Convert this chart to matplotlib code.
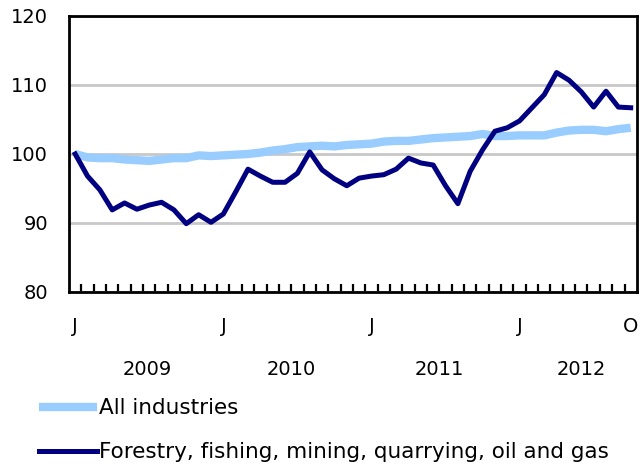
import matplotlib.pyplot as plt
import numpy as np

# monthly index, Jan 2009 = 100
all_industries = [100.0, 99.5, 99.4, 99.4, 99.2, 99.1, 99.0, 99.2, 99.4, 99.4, 99.8, 99.7,
                  99.8, 99.9, 100.0, 100.2, 100.5, 100.7, 101.0, 101.1, 101.2, 101.1, 101.3, 101.4,
                  101.5, 101.8, 101.9, 101.9, 102.1, 102.3, 102.4, 102.5, 102.6, 102.9, 102.6, 102.6,
                  102.7, 102.7, 102.7, 103.1, 103.4, 103.5, 103.5, 103.3, 103.6, 103.8]
forestry = [100.0, 96.8, 94.8, 91.9, 92.9, 92.0, 92.6, 93.0, 91.9, 89.9, 91.2, 90.1,
            91.3, 94.5, 97.8, 96.8, 95.9, 95.9, 97.2, 100.3, 97.7, 96.4, 95.4, 96.5,
            96.8, 97.0, 97.8, 99.4, 98.7, 98.4, 95.4, 92.8, 97.5, 100.6, 103.3, 103.8,
            104.8, 106.7, 108.6, 111.8, 110.7, 109.0, 106.8, 109.1, 106.8, 106.7]
month_ticks = [0, 12, 24, 36, 45]
month_labels = ['J', 'J', 'J', 'J', 'O']
years = ['2009', '2010', '2011', '2012']
year_pos = [5.8, 17.5, 29.5, 41]

plt.rcParams['font.family'] = ['DejaVu Sans']
plt.rcParams['font.size'] = 14

fig = plt.figure(figsize=(6.42, 4.66), dpi=100)
ax = fig.add_axes([0.1075, 0.3734, 0.8845, 0.5923])

x = np.arange(len(forestry))
l1, = ax.plot(x, all_industries, color='#99CCFF', lw=6, label='All industries', solid_capstyle='butt')
l2, = ax.plot(x, forestry, color='#000080', lw=3.6, label='Forestry, fishing, mining, quarrying, oil and gas')

ax.set_xlim(-0.5, len(forestry) - 0.5)
ax.set_ylim(80, 120)
ax.set_yticks([80, 90, 100, 110, 120])
ax.yaxis.grid(True, color='#C8C8C8', lw=2)
ax.set_axisbelow(True)
ax.tick_params(axis='y', length=0, pad=15)

ax.set_xticks(month_ticks)
ax.set_xticklabels(month_labels)
ax.tick_params(axis='x', which='major', length=0, pad=18)
ax.set_xticks(np.arange(len(forestry) - 1) + 0.5, minor=True)
ax.tick_params(axis='x', which='minor', direction='in', length=6, width=1.6)

for s in ax.spines.values():
    s.set_linewidth(2)

for yr, p in zip(years, year_pos):
    ax.text(p, -0.28, yr, transform=ax.get_xaxis_transform(), ha='center', va='center')

fig.legend(handles=[l1, l2], loc='upper left', bbox_to_anchor=(0.061, 0.145),
           frameon=False, handlelength=2.7, handletextpad=0.1, labelspacing=1.1,
           borderaxespad=0, borderpad=0, fontsize=15.5)

fig.savefig('out.png')
